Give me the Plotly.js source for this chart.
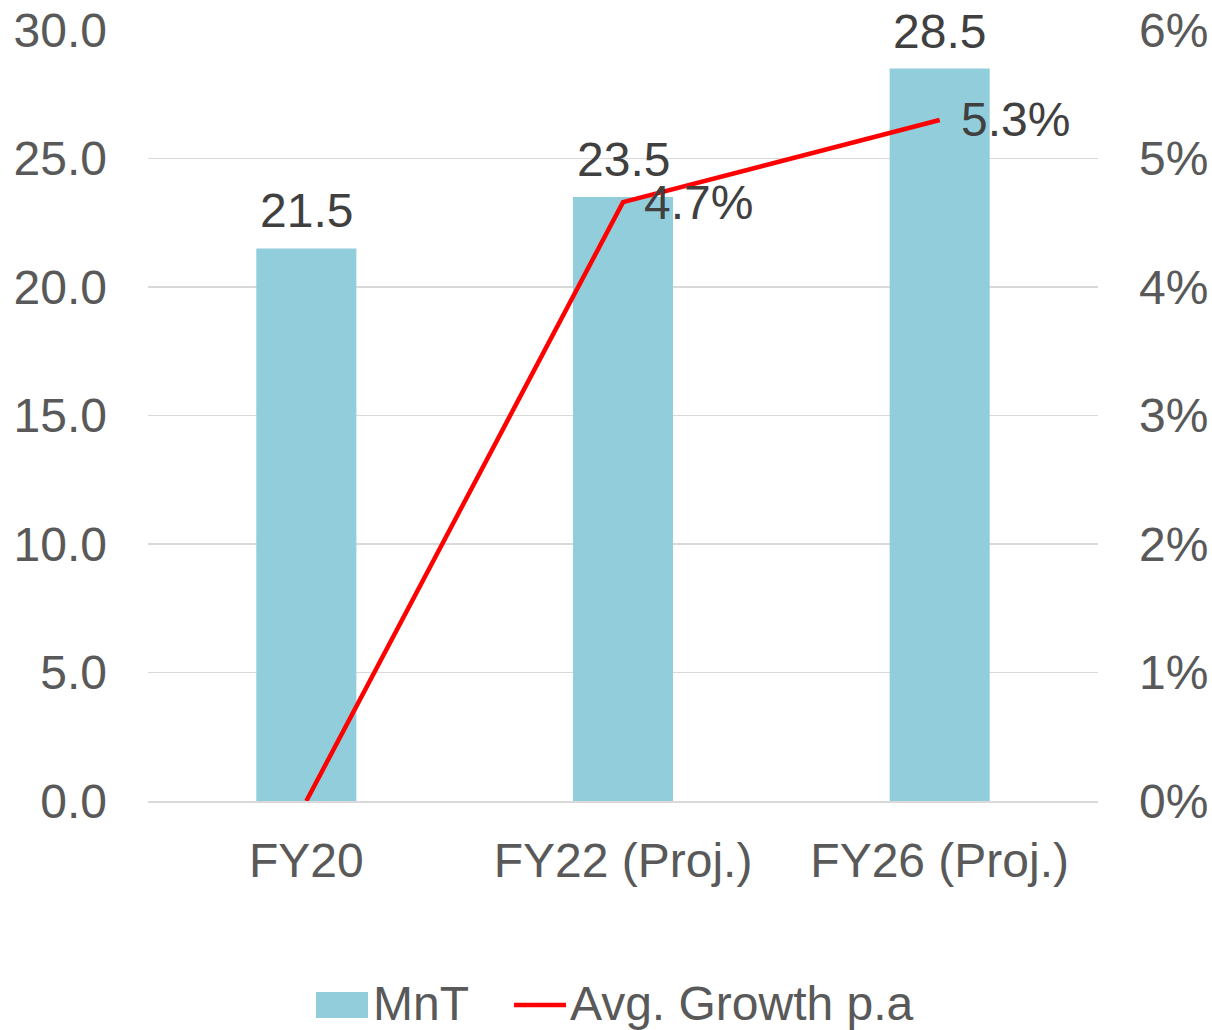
<!DOCTYPE html>
<html>
<head>
<meta charset="utf-8">
<script src="https://cdn.plot.ly/plotly-3.0.1.min.js"></script>
<style>html,body{margin:0;padding:0;background:#fff;}#chart{width:1212px;height:1030px;}</style>
</head>
<body>
<div id="chart"></div>
<script>
const categories = ['FY20', 'FY22 (Proj.)', 'FY26 (Proj.)'];
const mntValues = [21.5, 23.5, 28.5];
const growthValues = [0, 4.66, 5.3];
const leftTicks = [0, 5, 10, 15, 20, 25, 30];
const rightTicks = [0, 1, 2, 3, 4, 5, 6];
const seriesNames = ['MnT', 'Avg. Growth p.a'];

const FONT = 'Liberation Sans, Arial, sans-serif';
const FS = 48;
const BAR_COLOR = '#92CDDC';
const LINE_COLOR = '#FF0000';

// plot area in pixels (for legend placement in paper coords)
const PL = 148, PR = 1098, PT = 30, PB = 801;
const px = x => (x - PL) / (PR - PL);
const py = y => (PB - y) / (PB - PT);

const traces = [
  {
    type: 'bar',
    name: seriesNames[0],
    x: categories,
    y: mntValues,
    marker: {color: BAR_COLOR},
    hoverinfo: 'skip',
    showlegend: false
  },
  {
    type: 'scatter',
    mode: 'lines',
    name: seriesNames[1],
    x: categories,
    y: growthValues,
    yaxis: 'y2',
    line: {color: LINE_COLOR, width: 4.5},
    cliponaxis: false,
    hoverinfo: 'skip',
    showlegend: false
  }
];

const annotations = [];
categories.forEach((c, i) => {
  annotations.push({
    x: c, y: mntValues[i], xref: 'x', yref: 'y',
    text: mntValues[i].toFixed(1), showarrow: false,
    xanchor: 'center', yanchor: 'bottom', yshift: 9,
    font: {family: FONT, size: FS, color: '#404040'}
  });
  if (growthValues[i] > 0) {
    annotations.push({
      x: c, y: growthValues[i], xref: 'x', yref: 'y2',
      text: growthValues[i].toFixed(1) + '%', showarrow: false,
      xanchor: 'left', yanchor: 'middle', xshift: 19,
      font: {family: FONT, size: FS, color: '#404040'}
    });
  }
});
// custom legend labels
annotations.push({
  xref: 'paper', yref: 'paper', x: px(372), y: py(1003),
  xanchor: 'left', yanchor: 'middle', showarrow: false, borderpad: 0,
  text: seriesNames[0], font: {family: FONT, size: FS, color: '#595959'}
});
annotations.push({
  xref: 'paper', yref: 'paper', x: px(569), y: py(1003),
  xanchor: 'left', yanchor: 'middle', showarrow: false, borderpad: 0,
  text: seriesNames[1], font: {family: FONT, size: FS, color: '#595959'}
});

const shapes = [
  {type: 'rect', xref: 'paper', yref: 'paper',
   x0: px(316), x1: px(368), y0: py(1018), y1: py(992),
   fillcolor: BAR_COLOR, line: {width: 0}},
  {type: 'line', xref: 'paper', yref: 'paper',
   x0: px(514), x1: px(566), y0: py(1005), y1: py(1005),
   line: {color: LINE_COLOR, width: 4.5}}
];

const layout = {
  width: 1212,
  height: 1030,
  margin: {l: PL, r: 1212 - PR, t: PT, b: 1030 - PB, autoexpand: false},
  paper_bgcolor: '#ffffff',
  plot_bgcolor: '#ffffff',
  font: {family: FONT, size: FS, color: '#595959'},
  bargap: 0.684,
  showlegend: false,
  annotations: annotations,
  shapes: shapes,
  xaxis: {
    type: 'category',
    automargin: false,
    showgrid: false,
    showline: true,
    linecolor: '#d9d9d9',
    linewidth: 2,
    ticks: '',
    tickfont: {family: FONT, size: FS, color: '#595959'},
    ticklabelstandoff: 16
  },
  yaxis: {
    automargin: false,
    range: [0, 30],
    tickvals: leftTicks,
    ticktext: leftTicks.map(v => v.toFixed(1)),
    showgrid: true,
    gridcolor: '#d9d9d9',
    gridwidth: 1.5,
    zeroline: false,
    showline: false,
    ticks: '',
    tickfont: {family: FONT, size: FS, color: '#595959'},
    ticklabelstandoff: 40
  },
  yaxis2: {
    automargin: false,
    overlaying: 'y',
    side: 'right',
    range: [0, 6],
    tickvals: rightTicks,
    ticktext: rightTicks.map(v => v + '%'),
    showgrid: false,
    zeroline: false,
    showline: false,
    ticks: '',
    tickfont: {family: FONT, size: FS, color: '#595959'},
    ticklabelstandoff: 40
  }
};

Plotly.newPlot('chart', traces, layout, {displayModeBar: false, staticPlot: true});
</script>
</body>
</html>
